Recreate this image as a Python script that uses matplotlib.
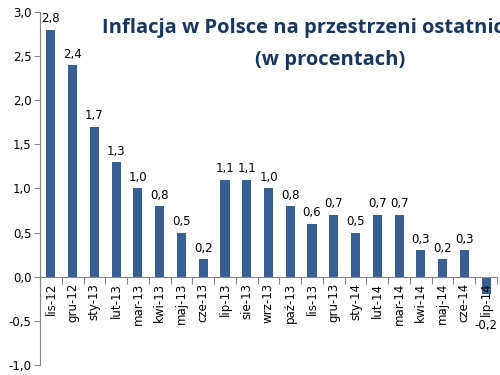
import matplotlib.pyplot as plt
from matplotlib.ticker import MultipleLocator, FuncFormatter

months = ["lis-12", "gru-12", "sty-13", "lut-13", "mar-13", "kwi-13", "maj-13",
          "cze-13", "lip-13", "sie-13", "wrz-13", "paź-13", "lis-13", "gru-13",
          "sty-14", "lut-14", "mar-14", "kwi-14", "maj-14", "cze-14", "lip-14"]
inflation = [2.8, 2.4, 1.7, 1.3, 1.0, 0.8, 0.5, 0.2, 1.1, 1.1, 1.0, 0.8, 0.6,
             0.7, 0.5, 0.7, 0.7, 0.3, 0.2, 0.3, -0.2]

bar_color = "#375F93"
title_color = "#17375E"

fig = plt.figure(figsize=(5, 3.75), dpi=100)
ax = fig.add_axes([0.08, 0.027, 0.914, 0.941])

x = list(range(len(months)))
ax.bar(x, inflation, width=0.42, color=bar_color, zorder=2)

ax.set_xlim(-0.5, len(months) - 0.5)
ax.set_ylim(-1.0, 3.0)
ax.yaxis.set_major_locator(MultipleLocator(0.5))
ax.yaxis.set_major_formatter(FuncFormatter(lambda v, p: f"{v:.1f}".replace(".", ",")))
ax.tick_params(axis="y", labelsize=8.5, length=4, color="#868686", pad=2)

for s in ["top", "right"]:
    ax.spines[s].set_visible(False)
ax.spines["left"].set_color("#868686")
ax.spines["bottom"].set_color("#868686")
ax.spines["bottom"].set_position(("data", 0))

# category boundary ticks, labels centred under bars
ax.set_xticks([i - 0.5 for i in x] + [len(months) - 0.5])
ax.set_xticklabels([])
ax.tick_params(axis="x", length=5, color="#868686")
for i, m in enumerate(months):
    ax.text(i, -0.07, m, rotation=90, ha="center", va="top", fontsize=8.5,
            color="black")

for i, v in enumerate(inflation):
    lbl = f"{v:.1f}".replace(".", ",")
    if v >= 0:
        ax.text(i, v + 0.05, lbl, ha="center", va="bottom", fontsize=8.5)
    else:
        ax.text(i, -0.55, lbl, ha="center", va="center", fontsize=8.5)

fig.text(0.205, 0.925, "Inflacja w Polsce na przestrzeni ostatnich", fontsize=14.5,
         fontweight="bold", color=title_color, family="Open Sans", ha="left", va="center")
fig.text(0.66, 0.84, "(w procentach)", fontsize=14.5, fontweight="bold",
         color=title_color, family="Open Sans", ha="center", va="center")

fig.savefig("out.png", dpi=100)
